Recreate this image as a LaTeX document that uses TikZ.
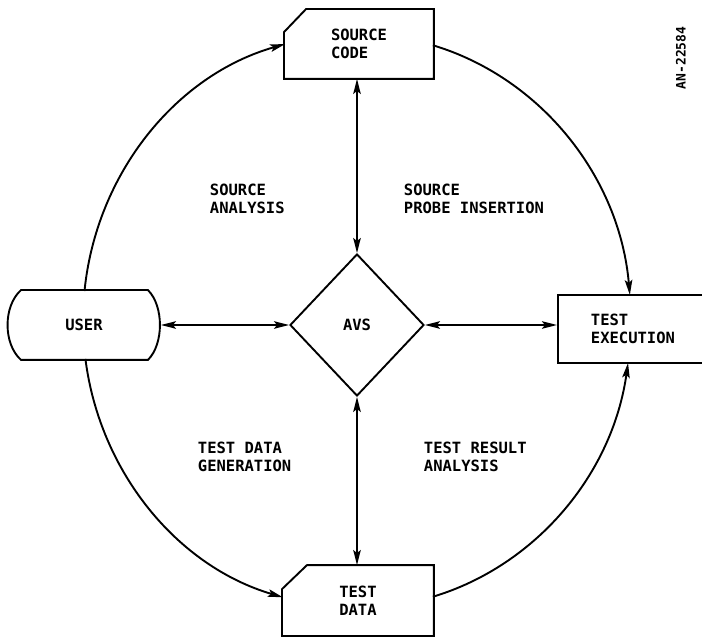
\documentclass[tikz,border=0pt]{standalone}
\usepackage{fontspec}
\setmonofont{DejaVu Sans Mono}
\usetikzlibrary{arrows.meta,shapes.geometric,calc}

\begin{document}
\begin{tikzpicture}[x=1pt,y=1pt,
  line width=1.9pt,
  >={Stealth[length=15pt,width=7.5pt,inset=3pt]},
  every node/.style={font=\ttfamily\bfseries\fontsize{15.5}{18.5}\selectfont, inner sep=0pt},
  outline/.style={draw=black, line width=1.9pt, line join=miter},
  holder/.style={minimum width=#1, minimum height=68pt},
  caption/.style={anchor=west, align=left},
  loop/.style={->},
  link/.style={<->},
]
% page area, hub of the outer ring at the origin
\useasboundingbox (-357,-316) rectangle (345,321);
\fill[white] (-357,-316) rectangle (345,321);
\coordinate (hub) at (0,0);

% SOURCE CODE: box with a cut top-left corner
\node[holder=148pt, align=left] (code) at (2,277) {SOURCE\\CODE};
\draw[outline] ($(code.north west)+(0,-23)$) -- ($(code.north west)+(22,0)$)
  -- (code.north east) -- (code.south east) -- (code.south west) -- cycle;

% USER: box with rounded left and right sides
\node[holder=152pt] (user) at (-273,-4) {USER};
\draw[outline] ($(user.north west)+(14,0)$) -- ($(user.north east)+(-13,0)$)
  .. controls ($(user.north east)+(3,-16)$) and ($(user.south east)+(3,16)$) .. ($(user.south east)+(-13,0)$)
  -- ($(user.south west)+(14,0)$)
  .. controls ($(user.south west)+(-4,16)$) and ($(user.north west)+(-4,-16)$) .. cycle;

% AVS decision diamond
\node[diamond, draw, minimum width=134pt, minimum height=142pt] (avs) at (0,-4) {AVS};

% TEST EXECUTION box (runs off the right edge)
\node[draw, anchor=west, minimum height=68pt, text width=180pt, inner xsep=33pt, align=left]
  (texec) at (200,-8) {TEST\\EXECUTION};

% TEST DATA: box with a cut top-left corner
\node[minimum width=150pt, minimum height=69pt, align=center] (tdata) at (1,-279.5) {TEST\\DATA};
\draw[outline] ($(tdata.north west)+(0,-24)$) -- ($(tdata.north west)+(25,0)$)
  -- (tdata.north east) -- (tdata.south east) -- (tdata.south west) -- cycle;

% quadrant captions
\node[caption] (lsa)  at (-148,122) {SOURCE\\ANALYSIS};
\node[caption] (lspi) at (46,122)   {SOURCE\\PROBE INSERTION};
\node[caption] (ltdg) at (-160,-136) {TEST DATA\\GENERATION};
\node[caption] (ltra) at (66,-136)  {TEST RESULT\\ANALYSIS};

% drawing number
\node[rotate=90, font=\ttfamily\bfseries\fontsize{13}{15}\selectfont] (fig) at (324,263) {AN-22584};

% outer ring
\draw[loop] ([shift={(174:274 and 287)}]hub) arc[start angle=174, end angle=105.2, x radius=274, y radius=287];
\draw[loop] ([shift={(73.9:274 and 287)}]hub) arc[start angle=73.9, end angle=5.2, x radius=274, y radius=287];
\draw[loop] ([shift={(187.6:274 and 287)}]hub) arc[start angle=187.6, end angle=254.3, x radius=274, y radius=287];
\draw[loop] ([shift={(286.1:274 and 287)}]hub) arc[start angle=286.1, end angle=351.6, x radius=274, y radius=287];

% spokes to AVS
\draw[link] (avs.north |- code.south) -- (avs.north);
\draw[link] (user.east) -- (avs.west);
\draw[link] (avs.east) -- (avs.east -| texec.west);
\draw[link] (avs.south) -- (avs.south |- tdata.north);
\end{tikzpicture}
\end{document}
